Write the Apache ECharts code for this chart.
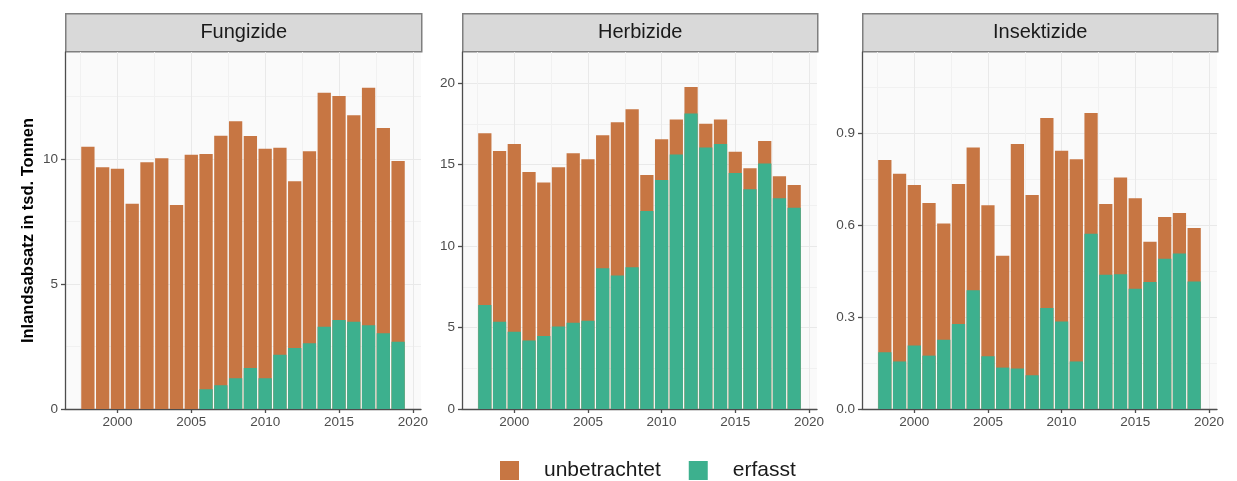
<!DOCTYPE html>
<html>
<head>
<meta charset="utf-8">
<script src="https://cdn.jsdelivr.net/npm/echarts@6/dist/echarts.min.js"></script>
<style>
  html, body { margin: 0; padding: 0; background: #ffffff; }
  #chart { width: 1237px; height: 481px; }
</style>
</head>
<body>
<div id="chart"></div>
<script>
// Inlandsabsatz von Pflanzenschutzmitteln (tsd. Tonnen), 1998–2019
const years = [1998, 1999, 2000, 2001, 2002, 2003, 2004, 2005, 2006, 2007, 2008,
               2009, 2010, 2011, 2012, 2013, 2014, 2015, 2016, 2017, 2018, 2019];

const panelNames = ['Fungizide', 'Herbizide', 'Insektizide'];
const seriesNames = ['unbetrachtet', 'erfasst'];

// erfasster Anteil (unten)
const fungErfasst = [0, 0, 0, 0, 0, 0, 0, 0, 0.79, 0.95, 1.23, 1.64, 1.23, 2.17, 2.44,
                     2.63, 3.29, 3.56, 3.49, 3.35, 3.03, 2.69];
const herbErfasst = [6.39, 5.36, 4.75, 4.20, 4.48, 5.06, 5.30, 5.42, 8.64, 8.19, 8.70,
                     12.16, 14.06, 15.62, 18.14, 16.05, 16.27, 14.49, 13.49, 15.07, 12.94, 12.36];
const insErfasst = [0.185, 0.155, 0.207, 0.174, 0.226, 0.277, 0.387, 0.172, 0.135, 0.132,
                    0.110, 0.329, 0.285, 0.155, 0.571, 0.438, 0.439, 0.392, 0.414, 0.490,
                    0.507, 0.416];

// unbetrachteter Anteil (oben)
const fungUnbetrachtet = [10.49, 9.67, 9.61, 8.21, 9.87, 10.03, 8.16, 10.17, 9.41, 9.98,
                          10.28, 9.28, 9.18, 8.28, 6.67, 7.68, 9.36, 8.96, 8.26, 9.50,
                          8.21, 7.23];
const herbUnbetrachtet = [10.54, 10.48, 11.52, 10.35, 9.42, 9.78, 10.40, 9.91, 8.17, 9.41,
                          9.70, 2.21, 2.50, 2.15, 1.63, 1.47, 1.50, 1.31, 1.29, 1.39,
                          1.35, 1.40];
const insUnbetrachtet = [0.627, 0.612, 0.523, 0.498, 0.379, 0.457, 0.466, 0.492, 0.365,
                         0.732, 0.588, 0.620, 0.557, 0.659, 0.394, 0.230, 0.316, 0.295,
                         0.131, 0.136, 0.132, 0.174];

// Achsenbeschriftungen
const xTicks = [2000, 2005, 2010, 2015, 2020];
const xMinorTicks = [1997.5, 2002.5, 2007.5, 2012.5, 2017.5];
const fungYTicks = [0, 5, 10];
const herbYTicks = [0, 5, 10, 15, 20];
const insYTicks = [0, 0.3, 0.6, 0.9];
const fungYMinor = [2.5, 7.5, 12.5];
const herbYMinor = [2.5, 7.5, 12.5, 17.5];
const insYMinor = [0.15, 0.45, 0.75, 1.05];

const yAxisTitle = 'Inlandsabsatz in tsd. Tonnen';

// ---- Layout & Stil ----
const FONT = '"Liberation Sans", Arial, Helvetica, sans-serif';
const colUnbetrachtet = '#C77643';
const colErfasst = '#3DB08E';
const axisCol = '#4D4D4D';
const gridLefts = [65, 462, 862];
const gridWidths = [356, 355, 355];
const gridTop = 52;
const gridHeight = 357;
const xRange = [1996.45, 2020.55];
const yMax = [14.28, 21.92, 1.164];

const erfasst = [fungErfasst, herbErfasst, insErfasst];
const unbetrachtet = [fungUnbetrachtet, herbUnbetrachtet, insUnbetrachtet];
const yTicks = [fungYTicks, herbYTicks, insYTicks];
const yMinor = [fungYMinor, herbYMinor, insYMinor];
const yFmt = [v => String(v), v => String(v), v => v.toFixed(1)];

const grids = [], xAxes = [], yAxes = [], series = [], graphics = [];

panelNames.forEach((name, i) => {
  grids.push({
    left: gridLefts[i], top: gridTop, width: gridWidths[i], height: gridHeight,
    show: true, backgroundColor: '#FAFAFA', borderWidth: 0
  });

  // Hauptachse unten
  xAxes.push({
    gridIndex: i, type: 'value', position: 'bottom',
    min: xRange[0], max: xRange[1],
    axisLine: { show: true, onZero: false, lineStyle: { color: axisCol, width: 1.3 } },
    axisTick: { show: true, length: 4, customValues: xTicks, lineStyle: { color: axisCol, width: 1.3 } },
    axisLabel: { customValues: xTicks, margin: 6, color: axisCol, fontSize: 13.5,
                 fontFamily: FONT, formatter: v => String(v) },
    splitLine: { show: true, lineStyle: { color: '#E9E9E9', width: 1 } }
  });
  // Nebengitter vertikal
  xAxes.push({
    gridIndex: i, type: 'value', position: 'top',
    min: xRange[0], max: xRange[1],
    axisLine: { show: false },
    axisTick: { show: false, customValues: xMinorTicks },
    axisLabel: { show: false, customValues: xMinorTicks },
    splitLine: { show: true, lineStyle: { color: '#F1F1F1', width: 1 } }
  });

  yAxes.push({
    gridIndex: i, type: 'value', position: 'left',
    min: 0, max: yMax[i],
    name: i === 0 ? yAxisTitle : '',
    nameLocation: 'middle', nameGap: 28,
    nameTextStyle: { color: '#000000', fontSize: 16.5, fontWeight: 'bold', fontFamily: FONT },
    axisLine: { show: true, onZero: false, lineStyle: { color: axisCol, width: 1.3 } },
    axisTick: { show: true, length: 4, customValues: yTicks[i], lineStyle: { color: axisCol, width: 1.3 } },
    axisLabel: { customValues: yTicks[i], margin: 7, color: axisCol, fontSize: 13.5,
                 fontFamily: FONT, formatter: yFmt[i] },
    splitLine: { show: true, lineStyle: { color: '#E9E9E9', width: 1 } }
  });
  yAxes.push({
    gridIndex: i, type: 'value', position: 'right',
    min: 0, max: yMax[i],
    axisLine: { show: false },
    axisTick: { show: false, customValues: yMinor[i] },
    axisLabel: { show: false, customValues: yMinor[i] },
    splitLine: { show: true, lineStyle: { color: '#F1F1F1', width: 1 } }
  });

  // Gestapelte Säulen: Gesamthöhe (erfasst + unbetrachtet) in Orange,
  // darüber der erfasste Sockel in Grün.
  series.push({
    name: 'unbetrachtet', type: 'bar',
    xAxisIndex: 2 * i, yAxisIndex: 2 * i,
    barWidth: '90%', barGap: '-100%', z: 2,
    itemStyle: { color: colUnbetrachtet },
    data: years.map((y, k) => [y, +(erfasst[i][k] + unbetrachtet[i][k]).toFixed(4)])
  });
  series.push({
    name: 'erfasst', type: 'bar',
    xAxisIndex: 2 * i, yAxisIndex: 2 * i,
    barWidth: '90%', barGap: '-100%', z: 3,
    itemStyle: { color: colErfasst },
    data: years.map((y, k) => [y, erfasst[i][k]])
  });

  // Facettenkopf
  graphics.push({
    type: 'group', left: gridLefts[i], top: 13,
    children: [
      { type: 'rect', shape: { x: 0, y: 0, width: gridWidths[i], height: 38 },
        style: { fill: '#D9D9D9', stroke: '#7F7F7F', lineWidth: 1.5 } },
      { type: 'text', x: gridWidths[i] / 2, y: 19,
        style: { text: name, fill: '#1A1A1A', fontSize: 20, fontFamily: FONT,
                 align: 'center', verticalAlign: 'middle' } }
    ]
  });
});

const chart = echarts.init(document.getElementById('chart'), null, { renderer: 'canvas' });
chart.setOption({
  animation: false,
  backgroundColor: '#ffffff',
  grid: grids,
  xAxis: xAxes,
  yAxis: yAxes,
  series: series,
  graphic: graphics,
  legend: {
    data: seriesNames,
    left: 495, top: 455,
    icon: 'rect', itemWidth: 19, itemHeight: 19, itemGap: 28,
    textStyle: { color: '#1A1A1A', fontSize: 21, fontFamily: FONT, padding: [0, 0, 0, 20] }
  }
});
</script>
</body>
</html>
